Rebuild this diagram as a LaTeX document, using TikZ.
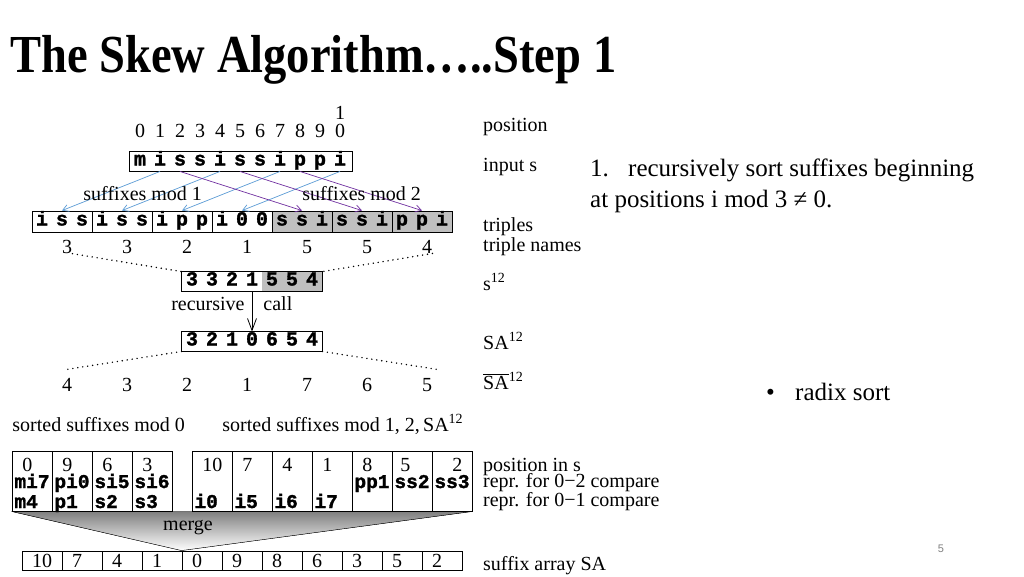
\documentclass[tikz,border=0pt]{standalone}
\usepackage{fontspec}
\setmainfont{Liberation Serif}
\setmonofont{Liberation Mono}[BoldFeatures={FakeBold=1.5}]
\setsansfont{Liberation Sans}
\usetikzlibrary{arrows.meta,backgrounds}
\definecolor{modone}{RGB}{91,155,213}
\definecolor{modtwo}{RGB}{112,48,160}
\definecolor{shade}{RGB}{191,191,191}
\newcommand{\trip}[3]{\makebox[20pt]{#1}\makebox[20pt]{#2}\makebox[20pt]{#3}}
\tikzset{
  lab/.style={anchor=base west,inner sep=0pt,font=\fontsize{20}{20}\selectfont},
  num/.style={anchor=base,inner sep=0pt,font=\fontsize{20}{20}\selectfont},
  chr/.style={inner sep=0pt,minimum width=20pt,minimum height=19pt,text height=11pt,text depth=3pt,
    font=\fontsize{20}{20}\selectfont\ttfamily\bfseries},
  tcell/.style={chr,draw,minimum width=60pt,minimum height=21pt},
  pcell/.style={draw,minimum width=40pt,minimum height=60pt,inner sep=0pt},
  ocell/.style={draw,minimum width=40pt,minimum height=19pt,inner sep=0pt,text width=20pt,align=left,
    text height=14pt,text depth=0pt,font=\fontsize{20}{20}\selectfont},
  code/.style={anchor=base west,inner sep=0pt,font=\fontsize{19.5}{19.5}\selectfont\ttfamily\bfseries},
  big/.style={anchor=base west,inner sep=0pt,font=\fontsize{25}{25}\selectfont},
  dots/.style={line width=1.6pt,line cap=round,dash pattern=on 0pt off 5pt},
  rsort/.style={-{Straight Barb[length=6pt,width=7pt]},line width=0.7pt}
}
\begin{document}
\begin{tikzpicture}[x=1pt,y=-1pt,line width=0.9pt]
  \useasboundingbox (0,0) rectangle (1024,576);
  \node[anchor=base west,inner sep=0pt,font=\fontsize{46.5}{50}\selectfont\bfseries] (title) at (10,72)
    {\scalebox{1}[1.15]{The Skew Algorithm…..Step 1}};

  % input s with positions
  \foreach \c/\d [count=\i from 0] in {m/0,i/1,s/2,s/3,i/4,s/5,s/6,i/7,p/8,p/9,i/0}{
    \node[num] (p\i) at (140+20*\i,137) {\d};
    \node[chr] (s\i) at (140+20*\i,161.5) {\c};}
  \node[num] (ptop) at (340,119) {1};
  \draw (s0.north west) rectangle ([xshift=2pt]s10.south east);

  % triples and their names
  \foreach \a/\b/\c/\f [count=\i] in {i/s/s/white,i/s/s/white,i/p/p/white,i/0/0/white,s/s/i/shade,s/s/i/shade,p/p/i/shade}
    \node[tcell,fill=\f] (t\i) at (2+60*\i,221.5) {\trip{\a}{\b}{\c}};
  \foreach \n [count=\i] in {3,3,2,1,5,5,4}
    \node[num] (n\i) at (7+60*\i,253) {\n};
  \foreach \s/\t in {1/1,4/2,7/3,10/4}
    \draw[rsort,modone] (s\s.south) -- (t\t.north);
  \foreach \s/\t in {2/5,5/6,8/7}
    \draw[rsort,modtwo] (s\s.south) -- (t\t.north);
  \node[lab] (mod1) at (83,200) {suffixes mod 1};
  \node[lab] (mod2) at (302,200) {suffixes mod 2};

  % s12 and SA12
  \foreach \v/\f [count=\i] in {3/white,3/white,2/white,1/white,5/shade,5/shade,4/shade}
    \node[chr,fill=\f] (st\i) at (172+20*\i,281.5) {\v};
  \draw (st1.north west) rectangle (st7.south east);
  \foreach \v [count=\i] in {3,2,1,0,6,5,4}
    \node[chr] (sa\i) at (172+20*\i,341.5) {\v};
  \draw (sa1.north west) rectangle (sa7.south east);
  \draw[-{Straight Barb[length=12pt,width=9pt]},line width=0.8pt] (st4.south) -- (sa4.north);
  \node[lab,anchor=base east] (rec) at (245,310) {recursive};
  \node[lab] (call) at (263,310) {call};
  \draw[dots] (n1.south east) -- (st1.north west);
  \draw[dots] (n7.south east) -- (st7.north east);
  \foreach \n [count=\i] in {4,3,2,1,7,6,5}
    \node[num] (m\i) at (7+60*\i,391) {\n};
  \draw[dots] (sa1.south west) -- ([yshift=8pt]m1.north);
  \draw[dots] (sa7.south east) -- ([yshift=8pt,xshift=5pt]m7.north east);

  % merge step
  \node[lab] (srt0) at (12,431) {sorted suffixes mod 0};
  \node[lab] (srt12) at (222,431) {sorted suffixes mod 1, 2,\,SA\textsuperscript{12}};
  \foreach \n/\p/\q [count=\i] in {0/mi7/m4,9/pi0/p1,6/si5/s2,3/si6/s3}{
    \node[pcell] (L\i) at (-8+40*\i,481) {};
    \node[num,anchor=base west] (Ln\i) at (-18+40*\i,471) {\n};
    \node[code] (Lp\i) at (-26+40*\i,488) {\p};
    \node[code] (Lq\i) at (-26+40*\i,508) {\q};}
  \foreach \n/\p/\q/\d [count=\i] in {10/{}/i0/10,7/{}/i5/10,4/{}/i6/10,1/{}/i7/10,8/pp1/{}/10,5/ss2/{}/8,2/ss3/{}/20}{
    \node[pcell] (R\i) at (172+40*\i,481) {};
    \node[num,anchor=base west] (Rn\i) at (152+40*\i+\d,471) {\n};
    \node[code] (Rp\i) at (154+40*\i,488) {\p};
    \node[code] (Rq\i) at (154+40*\i,508) {\q};}
  \foreach \v [count=\i] in {10,7,4,1,0,9,8,6,3,5,2}
    \node[ocell] (o\i) at (2+40*\i,560.5) {\v};
  \begin{pgfonlayer}{background}
    \fill[shade] (L1.south west) -- (R7.south east) -- (o5.north west) -- cycle;
  \end{pgfonlayer}
  \draw (L1.south west) -- (o5.north west) -- (R7.south east);
  \node[num] (mrg) at (188,530) {merge};

  % row labels
  \node[lab] (lpos) at (483,131) {position};
  \node[lab] (lin) at (483,171) {input s};
  \node[lab] (ltr) at (483,231) {triples};
  \node[lab] (ltn) at (483,251) {triple names};
  \node[lab] (lst) at (483,290) {s\textsuperscript{12}};
  \node[lab] (lsa) at (483,349) {SA\textsuperscript{12}};
  \node[lab] (lsb) at (483,389) {$\overline{\mbox{SA}}$\textsuperscript{12}};
  \node[lab] (lpis) at (483,471) {position in s};
  \node[lab] (lr2) at (483,487) {repr. for 0−2 compare};
  \node[lab] (lr1) at (483,506) {repr. for 0−1 compare};
  \node[lab] (lsuf) at (483,570) {suffix array SA};

  % slide text
  \node[big] (stepno) at (590,176) {1.};
  \node[big] (stepa) at (628,176) {recursively sort suffixes beginning};
  \node[big] (stepb) at (590,207) {at positions i mod 3 ≠ 0.};
  \node[big] (blt) at (766,400) {•};
  \node[big] (radix) at (795,400) {radix sort};
  \node[font=\fontsize{11}{11}\selectfont\sffamily,text=gray] (pg) at (941,549) {5};
\end{tikzpicture}
\end{document}
